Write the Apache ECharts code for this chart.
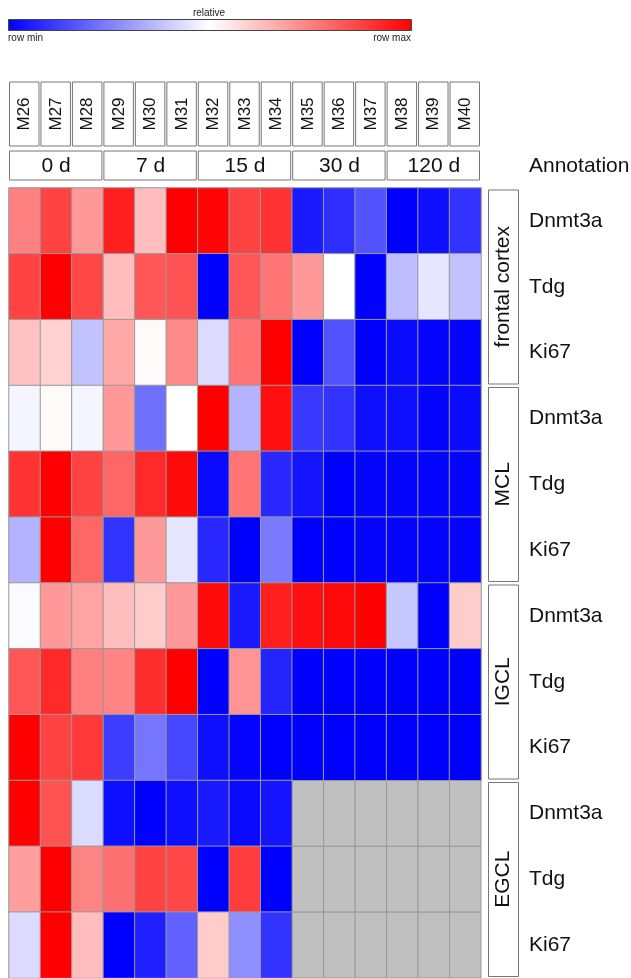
<!DOCTYPE html>
<html><head><meta charset="utf-8">
<script src="https://cdn.jsdelivr.net/npm/echarts@6/dist/echarts.min.js"></script>
<style>html,body{margin:0;padding:0;background:#fff;}#c{width:631px;height:978px;}</style>
</head><body><div id="c"></div>
<script>
// ---- data ----
const samples = ['M26','M27','M28','M29','M30','M31','M32','M33','M34','M35','M36','M37','M38','M39','M40'];
const timepoints = ['0 d','7 d','15 d','30 d','120 d'];
const timepointStart = [0, 3, 6, 9, 12];
const timepointEnd = [2, 5, 8, 11, 14];
const regions = ['frontal cortex','MCL','IGCL','EGCL'];
const genes = ['Dnmt3a','Tdg','Ki67'];
// relative expression per row: 0 = row min, 1 = row max, null = no data (grey)
const frontalCortexDnmt3a = [0.75,0.87,0.70,0.94,0.63,1.00,0.99,0.87,0.90,0.05,0.09,0.16,0.00,0.03,0.10];
const frontalCortexTdg    = [0.87,1.00,0.86,0.63,0.83,0.84,0.00,0.83,0.77,0.70,0.50,0.00,0.37,0.45,0.38];
const frontalCortexKi67   = [0.62,0.59,0.38,0.67,0.51,0.73,0.43,0.77,1.00,0.00,0.16,0.00,0.02,0.01,0.01];
const mclDnmt3a  = [0.48,0.51,0.48,0.70,0.22,0.50,1.00,0.35,0.97,0.11,0.10,0.03,0.03,0.01,0.02];
const mclTdg     = [0.90,1.00,0.87,0.80,0.92,0.98,0.02,0.77,0.08,0.04,0.00,0.01,0.01,0.01,0.01];
const mclKi67    = [0.35,1.00,0.80,0.10,0.70,0.45,0.08,0.00,0.24,0.00,0.00,0.01,0.01,0.01,0.01];
const igclDnmt3a = [0.49,0.70,0.68,0.63,0.60,0.70,0.98,0.05,0.94,0.97,0.98,1.00,0.39,0.00,0.60];
const igclTdg    = [0.83,0.92,0.75,0.74,0.91,1.00,0.00,0.71,0.07,0.00,0.00,0.00,0.00,0.00,0.00];
const igclKi67   = [1.00,0.87,0.89,0.12,0.23,0.14,0.03,0.01,0.00,0.00,0.00,0.00,0.00,0.00,0.00];
const egclDnmt3a = [1.00,0.84,0.43,0.03,0.00,0.03,0.05,0.02,0.04,null,null,null,null,null,null];
const egclTdg    = [0.69,1.00,0.74,0.78,0.87,0.86,0.00,0.88,0.00,null,null,null,null,null,null];
const egclKi67   = [0.43,1.00,0.63,0.00,0.06,0.19,0.60,0.28,0.10,null,null,null,null,null,null];

const rowValues = [frontalCortexDnmt3a, frontalCortexTdg, frontalCortexKi67,
  mclDnmt3a, mclTdg, mclKi67, igclDnmt3a, igclTdg, igclKi67, egclDnmt3a, egclTdg, egclKi67];
const rowKeys = [];
regions.forEach(r => genes.forEach(g => rowKeys.push(r + '|' + g)));

// ---- build ----
const heatData = [];
const missingData = [];
rowValues.forEach((row, r) => row.forEach((v, c) => {
  if (v == null) missingData.push([c, r, 0]); else heatData.push([c, r, v]);
}));

const FONT = '"Liberation Sans", Arial, Helvetica, sans-serif';
const chart = echarts.init(document.getElementById('c'), null, {renderer: 'canvas'});

const option = {
  animation: false,
  backgroundColor: '#ffffff',
  textStyle: {fontFamily: FONT},
  grid: {left: 9, top: 188, width: 472, height: 792, containLabel: false},
  xAxis: {type: 'category', data: samples, show: false},
  yAxis: {
    type: 'category', data: rowKeys, inverse: true, position: 'right',
    axisLine: {show: false}, axisTick: {show: false}, splitLine: {show: false},
    axisLabel: {margin: 48, fontSize: 21, color: '#111', fontFamily: FONT,
      formatter: v => v.split('|')[1]}
  },
  visualMap: {
    type: 'continuous', min: 0, max: 1, show: false, seriesIndex: 0,
    inRange: {color: ['#0000ff', '#ffffff', '#ff0000']}
  },
  graphic: [
    {type: 'rect', left: 8, top: 19, shape: {width: 403, height: 11},
      style: {fill: new echarts.graphic.LinearGradient(0, 0, 1, 0, [
        {offset: 0, color: '#0000ff'}, {offset: 0.5, color: '#ffffff'}, {offset: 1, color: '#ff0000'}]),
        stroke: '#444', lineWidth: 1}},
    {type: 'text', x: 209, y: 13, style: {text: 'relative', fontSize: 10, fill: '#222', align: 'center', verticalAlign: 'middle', fontFamily: FONT}},
    {type: 'text', x: 8, y: 38, style: {text: 'row min', fontSize: 10, fill: '#222', align: 'left', verticalAlign: 'middle', fontFamily: FONT}},
    {type: 'text', x: 411, y: 38, style: {text: 'row max', fontSize: 10, fill: '#222', align: 'right', verticalAlign: 'middle', fontFamily: FONT}},
    {type: 'text', x: 529, y: 166, style: {text: 'Annotation', fontSize: 21, fill: '#111', align: 'left', verticalAlign: 'middle', fontFamily: FONT}}
  ],
  series: [
    {
      type: 'heatmap', data: heatData, silent: true,
      itemStyle: {borderColor: '#999', borderWidth: 1},
      emphasis: {disabled: true}
    },
    {
      // cells without data
      type: 'custom', silent: true, data: missingData, encode: {x: 0, y: 1},
      renderItem: (params, api) => {
        const p = api.coord([api.value(0), api.value(1)]);
        const s = api.size([1, 1]);
        return {type: 'rect', shape: {x: p[0] - s[0] / 2, y: p[1] - s[1] / 2, width: s[0], height: s[1]},
          style: {fill: '#c0c0c0', stroke: '#999', lineWidth: 1}};
      }
    },
    {
      // sample header boxes
      type: 'custom', silent: true, clip: false,
      data: samples.map((s, i) => [i, 0]), encode: {x: 0, y: 1},
      renderItem: (params, api) => {
        const i = api.value(0);
        const cx = api.coord([i, 0])[0];
        const w = api.size([1, 0])[0];
        const top = params.coordSys.y;
        return {type: 'group', children: [
          {type: 'rect', shape: {x: cx - w / 2 + 0.5, y: top - 106, width: w - 2, height: 64},
            style: {fill: '#fff', stroke: '#777', lineWidth: 1}},
          {type: 'text', x: cx, y: top - 74, rotation: Math.PI / 2,
            style: {text: samples[i], fontSize: 17, fill: '#111', align: 'center', verticalAlign: 'middle', fontFamily: FONT}}
        ]};
      }
    },
    {
      // timepoint boxes
      type: 'custom', silent: true, clip: false,
      data: timepoints.map((t, k) => [timepointStart[k], timepointEnd[k], 0]), encode: {x: [0, 1], y: 2},
      renderItem: (params, api) => {
        const k = params.dataIndex;
        const w = api.size([1, 0])[0];
        const x0 = api.coord([api.value(0), 0])[0] - w / 2;
        const x1 = api.coord([api.value(1), 0])[0] + w / 2;
        const top = params.coordSys.y;
        return {type: 'group', children: [
          {type: 'rect', shape: {x: x0 + 0.5, y: top - 37, width: x1 - x0 - 2, height: 29},
            style: {fill: '#fff', stroke: '#777', lineWidth: 1}},
          {type: 'text', x: (x0 + x1) / 2, y: top - 22,
            style: {text: timepoints[k], fontSize: 21, fill: '#111', align: 'center', verticalAlign: 'middle', fontFamily: FONT}}
        ]};
      }
    },
    {
      // region boxes
      type: 'custom', silent: true, clip: false,
      data: regions.map((r, k) => [0, k * genes.length, k * genes.length + genes.length - 1]), encode: {x: 0, y: [1, 2]},
      renderItem: (params, api) => {
        const k = params.dataIndex;
        const h = api.size([0, 1])[1];
        const y0 = api.coord([0, api.value(1)])[1] - h / 2;
        const y1 = api.coord([0, api.value(2)])[1] + h / 2;
        const right = params.coordSys.x + params.coordSys.width;
        return {type: 'group', children: [
          {type: 'rect', shape: {x: right + 7.5, y: y0 + 2, width: 30, height: y1 - y0 - 3.5},
            style: {fill: '#fff', stroke: '#777', lineWidth: 1}},
          {type: 'text', x: right + 22.5, y: (y0 + y1) / 2, rotation: Math.PI / 2,
            style: {text: regions[k], fontSize: 21, fill: '#111', align: 'center', verticalAlign: 'middle', fontFamily: FONT}}
        ]};
      }
    }
  ]
};
chart.setOption(option);
</script></body></html>
